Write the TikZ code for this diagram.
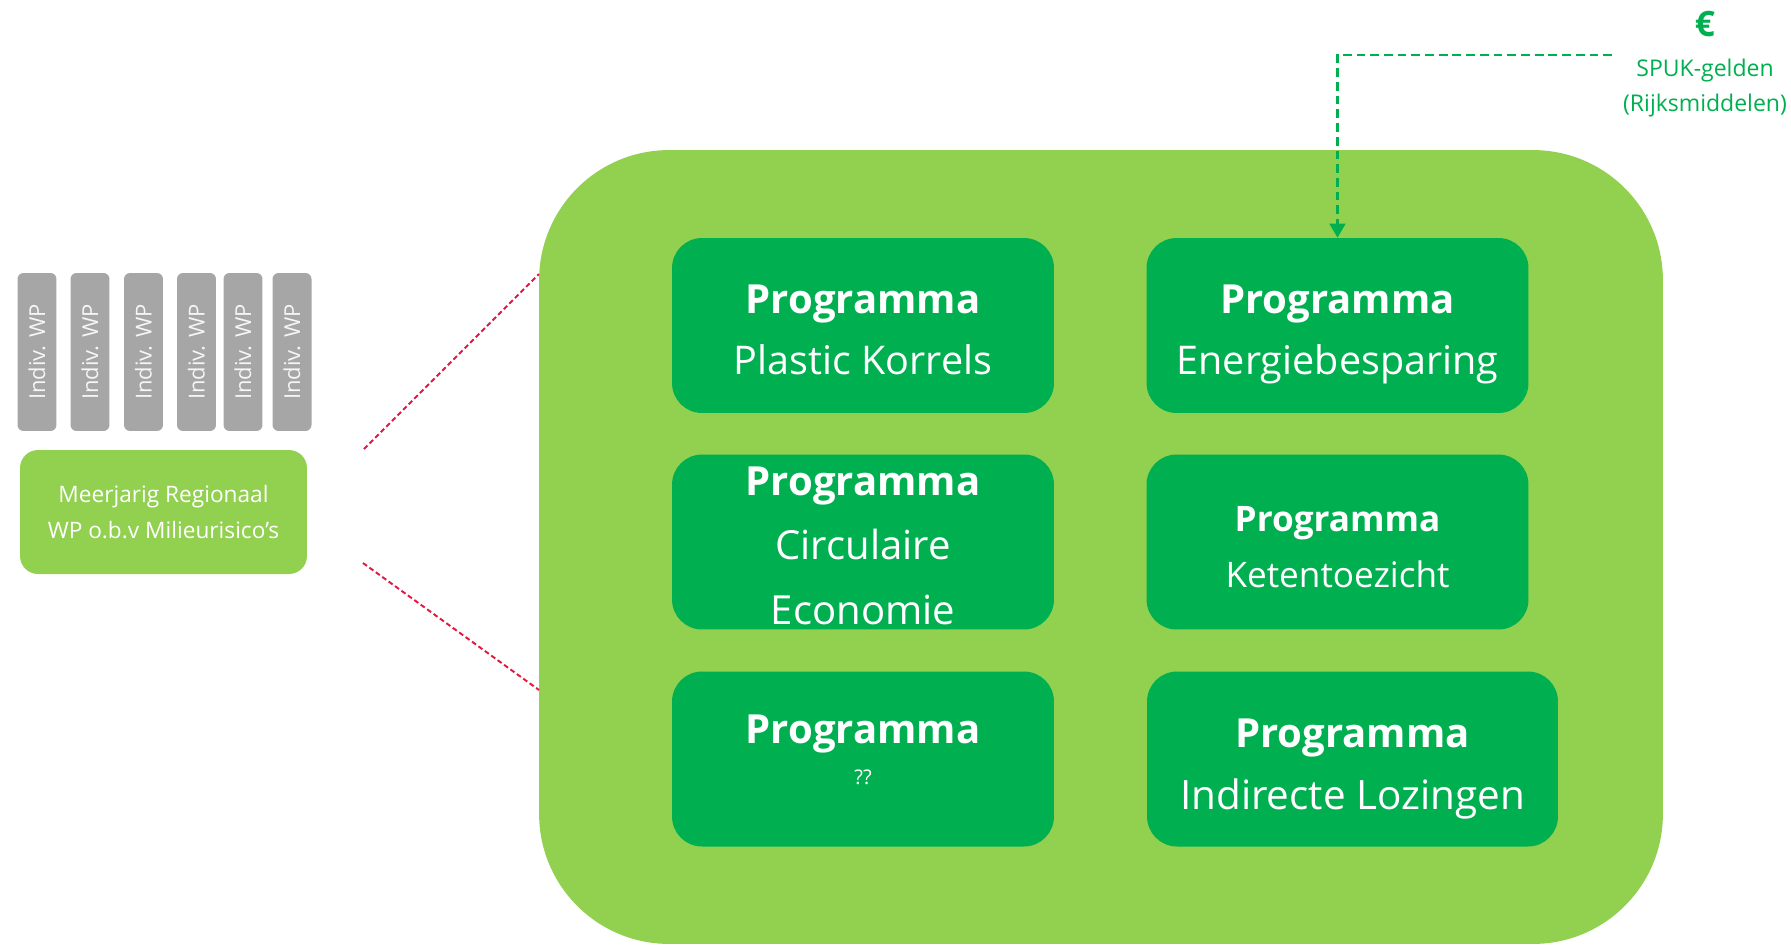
\documentclass[tikz,border=0pt]{standalone}
\usepackage{fontspec}
\setmainfont{Open Sans}
\usetikzlibrary{arrows.meta}

\definecolor{panelgreen}{HTML}{92D050}
\definecolor{boxgreen}{HTML}{00B050}
\definecolor{wpgray}{HTML}{A6A6A6}
\definecolor{zoomred}{HTML}{E5173F}
\newcommand{\prg}[1]{{\bfseries\fontsize{#1}{0}\selectfont Programma}}

\tikzset{
  programme/.style={fill=boxgreen, text=white, rounded corners=0.6cm,
    minimum width=7.64cm, minimum height=3.5cm, align=center, inner sep=0pt,
    text depth=0pt},
  wpbar/.style={fill=wpgray, text=white!90!wpgray, rounded corners=0.12cm,
    rotate=90, minimum width=3.16cm, minimum height=0.78cm, inner sep=0pt,
    font=\fontsize{12.5}{15}\selectfont},
  zoomline/.style={draw=zoomred, line width=1.1pt, dash pattern=on 2.8pt off 1.7pt},
  fundline/.style={draw=boxgreen, line width=1.4pt, dash pattern=on 5pt off 2.8pt,
    -{Triangle[length=8pt,width=9pt]}}
}

\begin{document}
\begin{tikzpicture}[x=0.02cm, y=-0.02cm]
    \useasboundingbox[fill=white] (0,0) rectangle (1791,944);

    % individuele werkplannen
    \node[wpbar] (wp1) at (37,352) {Indiv. WP};
    \node[wpbar] (wp2) at (90,352) {Indiv. WP};
    \node[wpbar] (wp3) at (143.5,352) {Indiv. WP};
    \node[wpbar] (wp4) at (196.5,352) {Indiv. WP};
    \node[wpbar] (wp5) at (243,352) {Indiv. WP};
    \node[wpbar] (wp6) at (292,352) {Indiv. WP};
    \node[fill=panelgreen, text=white, rounded corners=0.36cm, minimum width=5.74cm,
      minimum height=2.48cm, align=center, font=\fontsize{12.9}{20.7}\selectfont]
      (regional) at (163.5,512) {Meerjarig Regionaal\\WP o.b.v Milieurisico’s};

    % programma's
    \node[fill=panelgreen, rounded corners=2.6cm, minimum width=22.48cm,
      minimum height=15.88cm, inner sep=0pt] (panel) at (1101,547) {};
    \node[programme, text height=1.96cm, font=\fontsize{22.5}{34.6}\selectfont]
      (plastic) at (863,325.5) {\prg{22.8}\\Plastic Korrels};
    \node[programme, text height=1.96cm, font=\fontsize{22.5}{34.6}\selectfont]
      (energie) at (1337.5,325.5) {\prg{22.8}\\Energiebesparing};
    \node[programme, text height=3.3cm, font=\fontsize{22.8}{36.8}\selectfont]
      (circulair) at (863,542) {\prg{22.8}\\Circulaire\\Economie};
    \node[programme, text height=1.8cm, font=\fontsize{20}{31.7}\selectfont]
      (keten) at (1337.5,542) {\prg{20}\\Ketentoezicht};
    \node[programme, text height=1cm, font=\fontsize{11.5}{23.2}\selectfont]
      (onbekend) at (863,759) {\prg{22.8}\\??};
    \node[programme, minimum width=8.22cm, text height=2.02cm,
      font=\fontsize{23}{35.5}\selectfont]
      (lozingen) at (1352.5,759) {\prg{22.8}\\Indirecte Lozingen};

    % inzoomen
    \coordinate (zoomtop) at (364,449);
    \coordinate (zoombot) at (363,563);
    \coordinate (paneltop) at (539,274);
    \coordinate (panelbot) at (539,690);
    \draw[zoomline] (zoomtop) -- (paneltop);
    \draw[zoomline] (zoombot) -- (panelbot);

    % financiering
    \node[text=boxgreen, font=\bfseries\fontsize{20}{22}\selectfont] (euro) at (1705,24) {€};
    \node[text=boxgreen, align=center, font=\fontsize{13.1}{19.8}\selectfont]
      (spuk) at (1705,88) {SPUK-gelden\\(Rijksmiddelen)};
    \coordinate (fundsrc) at (1612,55);
    \draw[fundline] (fundsrc) -| (energie.north);
\end{tikzpicture}
\end{document}
